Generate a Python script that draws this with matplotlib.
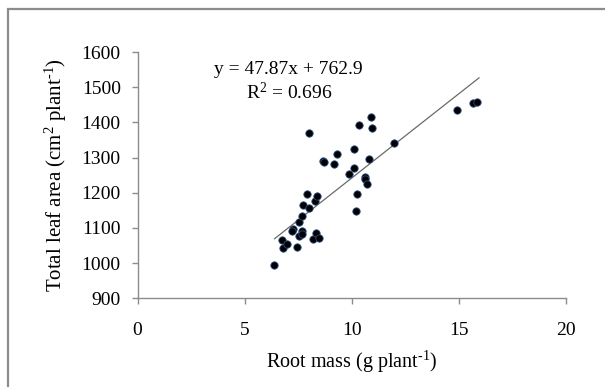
"""Total leaf area vs root mass scatter with linear fit."""

import matplotlib

matplotlib.use("Agg")
import matplotlib.pyplot as plt
import numpy as np
from matplotlib.patches import Rectangle

# root mass (g plant-1) and total leaf area (cm2 plant-1)
root_mass = [
    6.37, 6.75, 6.80, 7.00, 7.45, 7.27, 7.22, 7.55, 7.55, 7.69, 7.67, 7.69, 7.71,
    7.91, 8.01, 8.01, 8.18, 8.30, 8.38, 8.36, 8.50, 8.68, 8.70, 9.19, 9.33, 9.86,
    10.09, 10.13, 10.20, 10.23, 10.36, 10.61, 10.64, 10.72, 10.83, 10.92, 10.97,
    11.99, 14.91, 15.65, 15.87,
]
leaf_area = [
    995, 1065, 1043, 1055, 1047, 1098, 1092, 1118, 1077, 1090, 1082, 1135, 1166,
    1197, 1158, 1369, 1069, 1177, 1190, 1086, 1072, 1291, 1288, 1282, 1311, 1252,
    1269, 1325, 1147, 1196, 1392, 1245, 1240, 1225, 1295, 1416, 1385,
    1342, 1434, 1455, 1457,
]
fit_slope = 47.87
fit_intercept = 762.9
fit_r2 = 0.696
fit_x = [6.4, 15.95]

x_ticks = [0, 5, 10, 15, 20]
y_ticks = [900, 1000, 1100, 1200, 1300, 1400, 1500, 1600]

plt.rcParams["font.family"] = ["Liberation Serif", "DejaVu Serif"]
plt.rcParams["mathtext.fontset"] = "custom"
plt.rcParams["mathtext.rm"] = "Liberation Serif"
plt.rcParams["mathtext.it"] = "Liberation Serif:italic"

W, H = 605, 387
fig = plt.figure(figsize=(W / 100, H / 100), dpi=100)
left, right, top, bottom = 137.5, 565.7, 52.0, 298.3
ax = fig.add_axes([left / W, 1 - bottom / H, (right - left) / W, (bottom - top) / H])

# outer chart border (cut off at right and bottom)
fig.patches.append(
    Rectangle((8 / W, -0.1), 1.2, (H - 8.5) / H + 0.1, transform=fig.transFigure,
              fill=False, edgecolor="#8c8c8c", linewidth=1.6, clip_on=False)
)

xs = np.array(fit_x)
ax.plot(xs, fit_slope * xs + fit_intercept, color="#6a6a6a", linewidth=0.9, zorder=2)
ax.scatter(root_mass, leaf_area, s=28, facecolor="black", edgecolor="#2b4c80",
           linewidth=0.6, zorder=3)

ax.set_xlim(0, 20)
ax.set_ylim(900, 1600)
ax.set_xticks(x_ticks)
ax.set_yticks(y_ticks)
for side in ("top", "right"):
    ax.spines[side].set_visible(False)
for side in ("left", "bottom"):
    ax.spines[side].set_color("#8c8c8c")
    ax.spines[side].set_linewidth(1.0)
ax.tick_params(axis="both", direction="out", length=4, width=1.0, color="#8c8c8c",
               labelsize=14, labelcolor="black")
ax.tick_params(axis="x", pad=13)
ax.tick_params(axis="y", pad=8)

ax.set_xlabel(r"Root mass (g plant$^{\text{-1}}$)", fontsize=14.5, labelpad=7)
ax.set_ylabel(r"Total leaf area (cm$^{\text{2}}$ plant$^{\text{-1}}$)", fontsize=15, labelpad=9)

fig.text(288 / W, 1 - 70 / H, f"y = {fit_slope}x + {fit_intercept}", fontsize=14,
         ha="center", va="center")
fig.text(289 / W, 1 - 92 / H, f"R$^{{\\text{{2}}}}$ = {fit_r2}", fontsize=14,
         ha="center", va="center")

fig.savefig("out.png", dpi=100)
